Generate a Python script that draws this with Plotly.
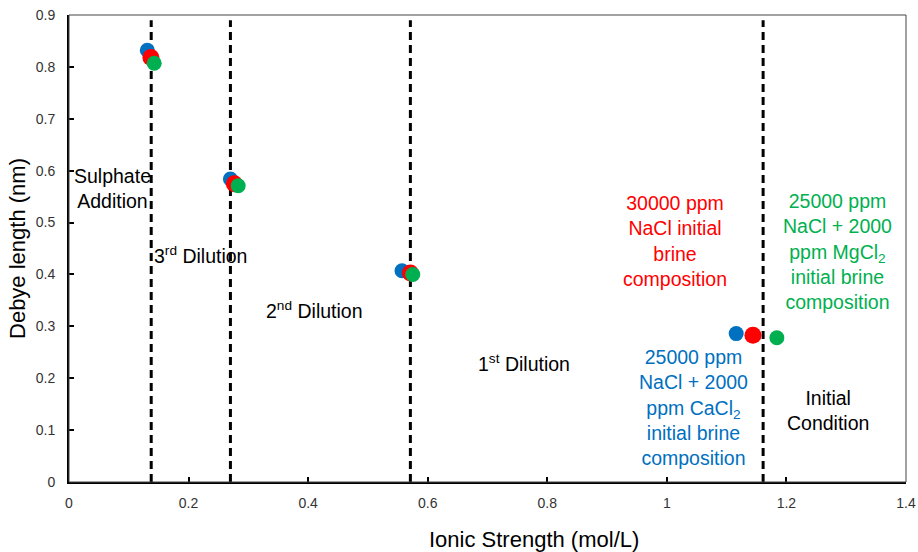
import plotly.graph_objects as go

# Ionic strength (mol/L) and Debye length (nm) for each brine at each stage
# stages: sulphate addition, 3rd dilution, 2nd dilution, 1st dilution / initial
cacl2_is = [0.131, 0.270, 0.557, 1.116]
cacl2_debye = [0.832, 0.584, 0.407, 0.286]

nacl_is = [0.137, 0.2765, 0.571, 1.144]
nacl_debye = [0.818, 0.575, 0.403, 0.283]

mgcl2_is = [0.1425, 0.283, 0.575, 1.184]
mgcl2_debye = [0.807, 0.571, 0.400, 0.278]

# Stage boundaries (ionic strength, mol/L)
boundaries = [0.1375, 0.270, 0.571, 1.161]
boundary_top = 0.89

x_ticks = [0, 0.2, 0.4, 0.6, 0.8, 1, 1.2, 1.4]
x_tick_labels = ["0", "0.2", "0.4", "0.6", "0.8", "1", "1.2", "1.4"]
y_ticks = [0, 0.1, 0.2, 0.3, 0.4, 0.5, 0.6, 0.7, 0.8, 0.9]
y_tick_labels = ["0", "0.1", "0.2", "0.3", "0.4", "0.5", "0.6", "0.7", "0.8", "0.9"]

BLUE = "#0070C0"
RED = "#FF0000"
GREEN = "#00B050"
FONT = "Liberation Sans, Arial, sans-serif"

fig = go.Figure()

for xb in boundaries:
    fig.add_trace(go.Scatter(
        x=[xb, xb], y=[0, boundary_top], mode="lines",
        line=dict(color="black", width=3, dash="8px,5px"),
        hoverinfo="skip", showlegend=False,
    ))

fig.add_trace(go.Scatter(x=cacl2_is, y=cacl2_debye, mode="markers",
                         marker=dict(color=BLUE, size=15), showlegend=False))
fig.add_trace(go.Scatter(x=nacl_is, y=nacl_debye, mode="markers",
                         marker=dict(color=RED, size=17), showlegend=False))
fig.add_trace(go.Scatter(x=mgcl2_is, y=mgcl2_debye, mode="markers",
                         marker=dict(color=GREEN, size=15), showlegend=False))

labels = [
    (0.072, 0.565, "Sulphate<br>Addition", "black"),
    (0.220, 0.437, "3<sup>rd</sup> Dilution", "black"),
    (0.411, 0.331, "2<sup>nd</sup> Dilution", "black"),
    (0.761, 0.229, "1<sup>st</sup> Dilution", "black"),
    (1.014, 0.464, "30000 ppm<br>NaCl initial<br>brine<br>composition", RED),
    (1.285, 0.445, "25000 ppm<br>NaCl + 2000<br>ppm MgCl<sub>2</sub><br>initial brine<br>composition", GREEN),
    (1.045, 0.1445, "25000 ppm<br>NaCl + 2000<br>ppm CaCl<sub>2</sub><br>initial brine<br>composition", BLUE),
    (1.270, 0.137, "Initial<br>Condition", "black"),
]
for x, y, txt, col in labels:
    fig.add_annotation(x=x, y=y, text=txt, showarrow=False, align="center",
                       xanchor="center", yanchor="middle",
                       font=dict(family=FONT, size=19.5, color=col))

# x-axis title, set slightly right of the plot centre
fig.add_annotation(xref="paper", yref="paper", x=0.556, y=-0.124,
                   text="Ionic Strength (mol/L)", showarrow=False,
                   xanchor="center", yanchor="middle",
                   font=dict(family=FONT, size=22, color="black"))

# thin frame around the plot area
fig.add_shape(type="rect", xref="paper", yref="paper", x0=0, y0=0, x1=1, y1=1,
              line=dict(color="#444444", width=1), layer="above")

fig.update_xaxes(
    range=[0, 1.4], tickvals=x_ticks, ticktext=x_tick_labels,
    ticks="inside", ticklen=5, tickwidth=1.5, tickcolor="black",
    showline=True, linecolor="black", linewidth=2, showgrid=False, zeroline=False,
    automargin=False, ticklabelstandoff=7,
    tickfont=dict(family=FONT, size=14, color="#333333"),
)
fig.update_yaxes(
    range=[0, 0.9], tickvals=y_ticks, ticktext=y_tick_labels,
    ticks="inside", ticklen=5, tickwidth=1.5, tickcolor="black",
    showline=True, linecolor="black", linewidth=2, showgrid=False, zeroline=False,
    automargin=False, ticklabelstandoff=9,
    tickfont=dict(family=FONT, size=14, color="#333333"),
    title=dict(text="Debye length (nm)", standoff=4,
               font=dict(family=FONT, size=22, color="black")),
)

fig.update_layout(
    width=918, height=552,
    margin=dict(l=69, r=12, t=15, b=70),
    plot_bgcolor="white", paper_bgcolor="white",
    font=dict(family=FONT),
)

fig.write_html("out.html")
